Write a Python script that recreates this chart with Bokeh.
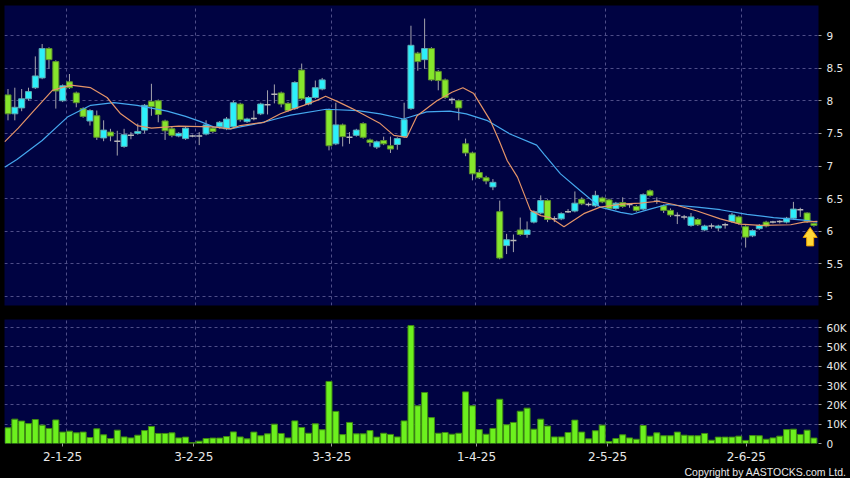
from bokeh.plotting import figure
from bokeh.layouts import column
from bokeh.models import Range1d, FixedTicker, Title
from bokeh.embed import file_html
from bokeh.resources import INLINE

# ---------------- data ----------------
open_ = [8.09, 7.80, 7.89, 8.03, 8.20, 8.35, 8.80, 8.60, 8.00, 8.29,
         8.12, 7.88, 7.69, 7.77, 7.43, 7.52, 7.38, 7.30, 7.47, 7.50,
         7.55, 7.99, 8.00, 7.69, 7.57, 7.46, 7.42, 7.46, 7.46, 7.49,
         7.58, 7.60, 7.57, 7.60, 7.95, 7.68, 7.73, 7.80, 7.94, 8.10,
         8.12, 7.96, 7.88, 8.47, 7.95, 8.05, 8.18, 7.86, 7.34, 7.63,
         7.44, 7.47, 7.65, 7.40, 7.29, 7.39, 7.31, 7.33, 7.45, 7.88,
         8.73, 8.63, 8.80, 8.45, 8.32, 8.02, 8.00, 7.34, 7.20, 6.90,
         6.82, 6.68, 6.30, 5.78, 5.86, 6.02, 5.95, 6.14, 6.28, 6.47,
         6.19, 6.19, 6.30, 6.31, 6.49, 6.41, 6.39, 6.51, 6.48, 6.35,
         6.44, 6.41, 6.38, 6.34, 6.62, 6.46, 6.39, 6.32, 6.24, 6.22,
         6.09, 6.18, 6.02, 6.08, 6.05, 6.10, 6.15, 6.22, 6.07, 5.93,
         6.04, 6.14, 6.14, 6.15, 6.14, 6.20, 6.33, 6.28, 6.12]
high = [8.18, 8.20, 8.18, 8.20, 8.68, 8.87, 8.82, 8.62, 8.25, 8.41,
        8.14, 7.90, 7.87, 7.85, 7.70, 7.57, 7.54, 7.57, 7.52, 7.65,
        7.95, 8.26, 8.02, 7.71, 7.60, 7.52, 7.60, 7.48, 7.52, 7.70,
        7.60, 7.69, 7.75, 8.00, 7.97, 7.74, 7.85, 7.97, 8.16, 8.25,
        8.14, 7.98, 8.30, 8.57, 8.07, 8.31, 8.35, 7.88, 7.97, 7.65,
        7.52, 7.57, 7.67, 7.42, 7.39, 7.45, 7.45, 7.44, 7.97, 9.15,
        8.75, 9.26, 8.82, 8.47, 8.34, 8.05, 8.02, 7.42, 7.22, 6.95,
        6.85, 6.80, 6.47, 5.96, 5.95, 6.21, 6.15, 6.32, 6.55, 6.49,
        6.23, 6.29, 6.34, 6.61, 6.52, 6.44, 6.62, 6.53, 6.50, 6.45,
        6.52, 6.43, 6.40, 6.58, 6.64, 6.52, 6.41, 6.35, 6.29, 6.25,
        6.28, 6.20, 6.10, 6.12, 6.10, 6.13, 6.28, 6.24, 6.09, 6.03,
        6.11, 6.16, 6.16, 6.17, 6.22, 6.45, 6.36, 6.29, 6.13]
low = [7.70, 7.70, 7.84, 8.00, 8.18, 8.33, 8.49, 7.88, 7.98, 8.18,
       7.90, 7.74, 7.62, 7.40, 7.38, 7.38, 7.16, 7.28, 7.41, 7.48,
       7.50, 7.77, 7.67, 7.40, 7.44, 7.44, 7.40, 7.44, 7.32, 7.47,
       7.50, 7.57, 7.55, 7.58, 7.68, 7.66, 7.70, 7.78, 7.79, 7.96,
       7.90, 7.83, 7.86, 8.01, 7.93, 8.03, 8.16, 7.24, 7.32, 7.30,
       7.34, 7.45, 7.42, 7.30, 7.26, 7.32, 7.20, 7.25, 7.43, 7.86,
       8.46, 8.49, 8.30, 8.16, 8.03, 7.95, 7.70, 7.15, 6.78, 6.80,
       6.72, 6.63, 5.57, 5.65, 5.68, 5.93, 5.90, 6.12, 6.26, 6.14,
       6.14, 6.17, 6.28, 6.29, 6.40, 6.38, 6.37, 6.43, 6.33, 6.33,
       6.36, 6.36, 6.30, 6.32, 6.53, 6.42, 6.28, 6.22, 6.11, 6.18,
       6.07, 6.08, 6.00, 6.04, 6.00, 6.04, 6.13, 6.10, 5.75, 5.91,
       6.02, 6.06, 6.12, 6.12, 6.12, 6.18, 6.22, 6.13, 6.07]
close = [7.80, 7.90, 8.03, 8.14, 8.38, 8.80, 8.63, 8.15, 8.23, 8.20,
         7.97, 7.76, 7.85, 7.44, 7.55, 7.46, 7.38, 7.48, 7.47, 7.53,
         7.93, 7.91, 7.79, 7.54, 7.47, 7.50, 7.58, 7.46, 7.46, 7.63,
         7.53, 7.67, 7.72, 7.97, 7.71, 7.72, 7.73, 7.95, 7.94, 8.10,
         7.95, 7.85, 8.28, 8.03, 8.05, 8.20, 8.32, 7.31, 7.63, 7.45,
         7.44, 7.55, 7.44, 7.36, 7.37, 7.34, 7.26, 7.42, 7.71, 8.85,
         8.60, 8.80, 8.32, 8.31, 8.05, 8.02, 7.89, 7.20, 6.88, 6.82,
         6.77, 6.75, 5.59, 5.87, 5.86, 5.95, 6.02, 6.30, 6.47, 6.18,
         6.19, 6.27, 6.30, 6.43, 6.42, 6.41, 6.55, 6.45, 6.35, 6.43,
         6.38, 6.41, 6.32, 6.56, 6.55, 6.46, 6.32, 6.25, 6.24, 6.22,
         6.22, 6.10, 6.08, 6.08, 6.08, 6.10, 6.25, 6.12, 5.91, 6.01,
         6.09, 6.08, 6.14, 6.15, 6.20, 6.34, 6.33, 6.15, 6.09]
# volume in thousands of shares
volume_k = [8.1, 12.6, 11.6, 10.3, 12.4, 9.5, 7.8, 12.2, 5.9, 6.4,
            5.5, 5.9, 3.1, 7.6, 4.5, 2.6, 6.9, 3.4, 2.9, 4.3,
            6.7, 8.8, 5.2, 5.2, 5.5, 2.9, 3.3, 0.5, 1.2, 2.6,
            2.8, 2.8, 3.6, 6.0, 3.4, 2.4, 5.9, 4.0, 5.0, 10.0,
            5.2, 2.9, 11.7, 8.3, 5.3, 10.2, 7.1, 32.1, 16.6, 4.6,
            10.9, 5.0, 5.0, 6.7, 3.3, 5.3, 4.7, 3.4, 11.7, 61.0,
            19.5, 26.4, 13.4, 5.3, 5.7, 4.8, 5.3, 26.7, 19.5, 7.2,
            4.8, 7.8, 22.9, 9.7, 10.9, 16.7, 18.3, 7.4, 12.6, 9.0,
            3.4, 3.4, 5.7, 12.1, 5.9, 2.4, 6.6, 9.5, 1.0, 2.6,
            4.5, 2.9, 2.2, 9.3, 3.8, 5.5, 4.0, 4.0, 5.9, 4.3,
            4.0, 4.0, 5.2, 1.7, 3.3, 3.3, 3.3, 3.8, 1.6, 4.1,
            4.0, 2.2, 2.9, 3.8, 7.2, 7.4, 4.7, 6.9, 2.8]

# moving-average lines (bar position, price)
ma_short_x = [-0.5, 1.5, 3.8, 6.5, 9.2, 12.1, 14.5, 16.5, 18.9, 21, 25, 30, 32.6, 34,
              37.5, 39.9, 41.4, 43.3, 45.3, 46.5, 48.2, 50.4, 54.5, 56.5, 58.4, 59.9,
              62.8, 65, 66.6, 68.2, 70.6, 71.9, 73.1, 74.6, 76.5, 78, 79.4, 81.4, 84.3,
              86.7, 90.2, 92.6, 95.1, 97.5, 100.9, 104.3, 107.2, 110.2, 114.6, 116.5, 118.5]
ma_short_y = [7.37, 7.58, 7.85, 8.16, 8.24, 8.20, 8.05, 7.80, 7.62, 7.58, 7.61, 7.60, 7.57, 7.62,
              7.67, 7.80, 7.86, 7.93, 8.01, 8.07, 7.99, 7.88, 7.65, 7.47, 7.44, 7.77,
              8.00, 8.13, 8.20, 8.11, 7.70, 7.39, 7.08, 6.83, 6.32, 6.24, 6.21, 6.07, 6.27,
              6.37, 6.42, 6.43, 6.46, 6.41, 6.31, 6.19, 6.11, 6.09, 6.10, 6.14, 6.15]
ma_long_x = [-0.5, 1.3, 5.0, 8.7, 12.1, 15.5, 18.9, 23.3, 26, 28.2, 30.1, 32.6, 34, 37,
             39.9, 41.4, 46.6, 51.2, 54.5, 57.9, 61.3, 64.7, 67.1, 70.1, 73.5, 77.4, 78.5,
             80.9, 83.8, 86.7, 89.7, 91.4, 94, 96.5, 100.9, 104.3, 108.2, 112.1, 116.5, 118.5]
ma_long_y = [6.98, 7.10, 7.39, 7.75, 7.93, 7.97, 7.93, 7.84, 7.76, 7.68, 7.60, 7.57, 7.60, 7.66,
             7.74, 7.78, 7.87, 7.85, 7.80, 7.72, 7.83, 7.84, 7.80, 7.70, 7.49, 7.32, 7.18,
             6.88, 6.62, 6.37, 6.29, 6.26, 6.34, 6.41, 6.37, 6.33, 6.26, 6.21, 6.17, 6.14]

# date ticks and month grid lines (bar positions)
x_tick_pos = [8.0, 27.2, 47.4, 68.6, 87.8, 108.1]
x_tick_labels = ["2-1-25", "3-2-25", "3-3-25", "1-4-25", "2-5-25", "2-6-25"]
x_grid_pos = [8.5, 27.5, 47.4, 68.5, 87.5, 107.4]
price_ticks = [5, 5.5, 6, 6.5, 7, 7.5, 8, 8.5, 9]
price_tick_labels = ["5", "5.5", "6", "6.5", "7", "7.5", "8", "8.5", "9"]
vol_ticks = [0, 10, 20, 30, 40, 50, 60]
vol_tick_labels = ["0", "10K", "20K", "30K", "40K", "50K", "60K"]
copyright_text = "Copyright by AASTOCKS.com Ltd."

# ---------------- styles ----------------
NAVY = "#000342"
GRID = "#4e4e88"
CYAN = "#2cf0fa"
CYAN_EDGE = "#5fa9b4"
GREEN = "#86e62c"
GREEN_EDGE = "#5c8f2c"
WICK = "#a4a4ac"
DOJI = "#b8b8b8"
LIME = "#6cf01e"
LIME_EDGE = "#3f8a12"
ORANGE = "#e49468"
BLUE = "#45a8ee"
TXT = "#e8e8e8"
FONT = "DejaVu Sans"

W = 850
LEFT = 4
RIGHT = 32
N = len(close)
idx = list(range(N))
x_rng = Range1d(-0.512, 118.67)
P_TOP, P_BOT = 9.46, 4.862
PLOT_W, PLOT_H = W - LEFT - RIGHT, 300


def style_common(fig):
    fig.background_fill_color = NAVY
    fig.border_fill_color = "black"
    fig.outline_line_color = None
    for g in (fig.xgrid[0], fig.ygrid[0]):
        g.grid_line_color = GRID
        g.grid_line_dash = "3 3"
        g.grid_line_width = 1
    fig.xgrid[0].ticker = FixedTicker(ticks=x_grid_pos)


def style_axis(ax, size="10.5px"):
    ax.axis_line_color = None
    ax.major_tick_line_color = "#9a9a9a"
    ax.major_tick_out = 3
    ax.major_tick_in = 0
    ax.minor_tick_line_color = None
    ax.major_label_text_color = TXT
    ax.major_label_text_font = FONT
    ax.major_label_text_font_size = size


# ---------------- price panel ----------------
p = figure(width=W, height=312, x_range=x_rng, y_range=Range1d(P_BOT, P_TOP),
           output_backend="svg", toolbar_location=None, x_axis_location=None,
           y_axis_location="right", min_border_left=LEFT, min_border_right=RIGHT,
           min_border_top=5, min_border_bottom=7)
style_common(p)
p.yaxis.ticker = FixedTicker(ticks=price_ticks)
p.yaxis.major_label_overrides = {t: l for t, l in zip(price_ticks, price_tick_labels)}
style_axis(p.yaxis[0])
p.yaxis.major_label_standoff = 5

inc = [i for i in idx if close[i] > open_[i]]
dec = [i for i in idx if close[i] < open_[i]]
doj = [i for i in idx if close[i] == open_[i]]

p.segment(x0=idx, y0=low, x1=idx, y1=high, line_color=WICK, line_width=1)
p.vbar(x=inc, width=0.88, top=[close[i] for i in inc], bottom=[open_[i] for i in inc],
       fill_color=CYAN, line_color=CYAN_EDGE, line_width=1)
p.vbar(x=dec, width=0.88, top=[open_[i] for i in dec], bottom=[close[i] for i in dec],
       fill_color=GREEN, line_color=GREEN_EDGE, line_width=1)
p.scatter(x=doj, y=[close[i] for i in doj], marker="dash", size=6,
          line_color=DOJI, line_width=1.5)

p.line(ma_long_x, ma_long_y, line_color=BLUE, line_width=1.2)
p.line(ma_short_x, ma_short_y, line_color=ORANGE, line_width=1.2)

# block arrow marking the latest close (shape given in pixels, anchored to last bar)
ux = (x_rng.end - x_rng.start) / PLOT_W     # data units per pixel, x
uy = (P_TOP - P_BOT) / PLOT_H               # data units per pixel, y
ax0 = idx[-1] - 0.55
ay0 = close[-1] - 2 * uy
arrow_px = [(0, 0), (7, 10), (3.5, 10), (3.5, 18.5), (-3.5, 18.5), (-3.5, 10), (-7, 10)]
p.patch([ax0 + dx * ux for dx, dy in arrow_px], [ay0 - dy * uy for dx, dy in arrow_px],
        fill_color="#ffd838", line_color="#eaa000", line_width=1)

# ---------------- volume panel ----------------
v = figure(width=W, height=166, x_range=x_rng, y_range=Range1d(0, 64.15),
           output_backend="svg", toolbar_location=None, y_axis_location="right",
           min_border_left=LEFT, min_border_right=RIGHT, min_border_top=7, min_border_bottom=35)
style_common(v)
v.yaxis.ticker = FixedTicker(ticks=vol_ticks)
v.yaxis.major_label_overrides = {t: l for t, l in zip(vol_ticks, vol_tick_labels)}
style_axis(v.yaxis[0])
v.yaxis.major_label_standoff = 5
v.xaxis.ticker = FixedTicker(ticks=x_tick_pos)
v.xaxis.major_label_overrides = {t: l for t, l in zip(x_tick_pos, x_tick_labels)}
style_axis(v.xaxis[0], size="12px")
v.xaxis.major_label_standoff = 5

v.vbar(x=idx, width=0.88, top=volume_k, bottom=0, fill_color=LIME,
       line_color=LIME_EDGE, line_width=1)

cr = Title(text=copyright_text, align="right", offset=-28, standoff=0,
           text_color=TXT, text_font="Liberation Sans", text_font_size="10.5px",
           text_font_style="normal")
v.add_layout(cr, "below")

layout_kwargs = dict(spacing=0)
try:
    from bokeh.models import GlobalInlineStyleSheet
    layout_kwargs["stylesheets"] = [GlobalInlineStyleSheet(css="body{background:#000000;}")]
except Exception:
    pass

layout = column(p, v, **layout_kwargs)
open("out.html", "w").write(file_html(layout, INLINE))
